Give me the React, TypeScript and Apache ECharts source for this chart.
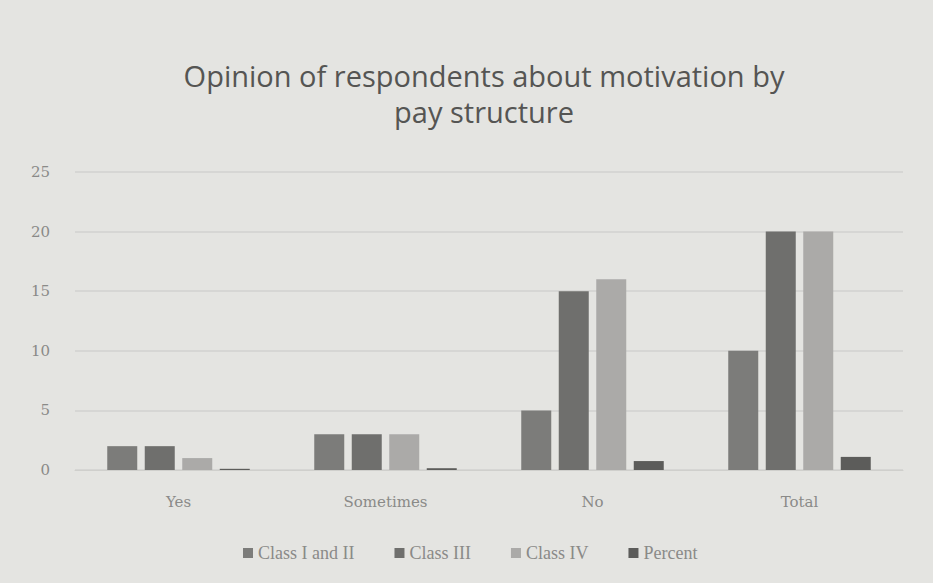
import React, { useEffect, useRef } from "react";
import * as echarts from "echarts";

const categories = ["Yes", "Sometimes", "No", "Total"];
const classIandII = [2, 3, 5, 10];
const classIII = [2, 3, 15, 20];
const classIV = [1, 3, 16, 20];
const percent = [0.1, 0.15, 0.75, 1.1];
const seriesNames = ["Class I and II", "Class III", "Class IV", "Percent"];
const colors = ["#7c7c7a", "#6f6f6d", "#abaaa8", "#5c5c5a"];

export default function App() {
  const ref = useRef<HTMLDivElement>(null);
  useEffect(() => {
    if (!ref.current) return;
    const chart = echarts.init(ref.current, null, { renderer: "svg" });
    const data = [classIandII, classIII, classIV, percent];
    chart.setOption({
      animation: false,
      backgroundColor: "#e4e4e1",
      title: {
        text: "Opinion of respondents about motivation by\npay structure",
        left: 479,
        textAlign: "center",
        top: 52,
        textStyle: {
          fontFamily: "Open Sans",
          fontWeight: "normal",
          fontSize: 29,
          color: "#555553",
          lineHeight: 36,
        },
      },
      legend: {
        bottom: 16,
        left: 238,
        itemWidth: 10,
        itemHeight: 10,
        itemGap: 40,
        textStyle: { fontFamily: "Liberation Serif", fontSize: 18, color: "#8a8a88" },
        icon: "rect",
        data: seriesNames,
      },
      grid: { left: 75, right: 30, top: 172, bottom: 113 },
      xAxis: {
        type: "category",
        data: categories,
        axisTick: { show: false },
        axisLine: { lineStyle: { color: "#cfcfcc", width: 1 } },
        axisLabel: { fontFamily: "DejaVu Serif", fontSize: 15, color: "#8a8a88", margin: 24 },
      },
      yAxis: {
        type: "value",
        min: 0,
        max: 25,
        interval: 5,
        axisLine: { show: false },
        axisTick: { show: false },
        splitLine: { lineStyle: { color: "#d2d2cf", width: 1.5 } },
        axisLabel: { fontFamily: "DejaVu Serif", fontSize: 15, color: "#8a8a88", margin: 25 },
      },
      series: data.map((d, i) => ({
        name: seriesNames[i],
        type: "bar",
        data: d,
        barWidth: 30,
        barGap: "25%",
        itemStyle: { color: colors[i] },
      })),
    });
    return () => chart.dispose();
  }, []);
  return <div ref={ref} style={{ width: 933, height: 583, position: "absolute", left: 0, top: 0 }} />;
}
